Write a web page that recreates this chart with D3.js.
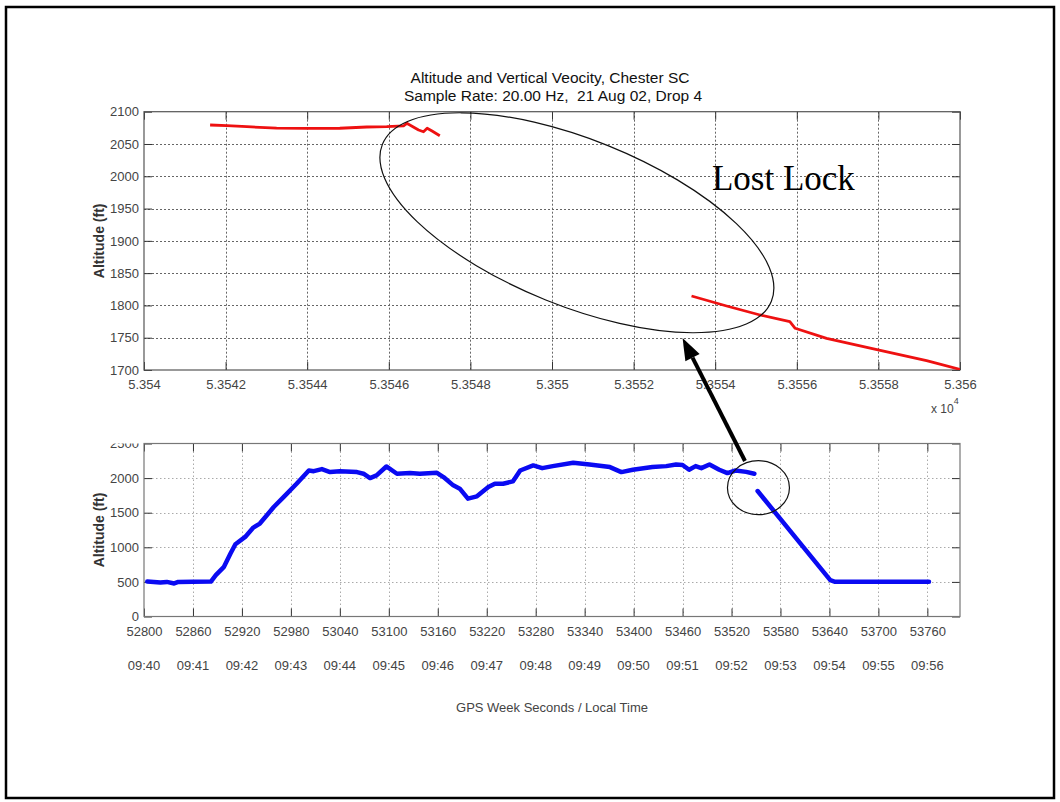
<!DOCTYPE html>
<html>
<head>
<meta charset="utf-8">
<script src="https://cdn.jsdelivr.net/npm/d3@7"></script>
<style>
  body { margin: 0; background: #fff; }
  svg { display: block; }
  text { font-family: "Liberation Sans", Arial, sans-serif; }
</style>
</head>
<body>
<svg id="chart" width="1060" height="802"></svg>
<script>
// ---------------- data ----------------
const titleLines = [
  "Altitude and Vertical Veocity, Chester SC",
  "Sample Rate: 20.00 Hz,  21 Aug 02, Drop 4"
];
const yAxisLabel = "Altitude (ft)";
const xAxisLabel = "GPS Week Seconds / Local Time";
const annotationText = "Lost Lock";

// Close-up panel (GPS week seconds 53540 - 53560): two pieces either side of the lock loss
const zoomSeg1Sec = [53541.62, 53542.03, 53542.52, 53543.25, 53543.99, 53544.80, 53545.46, 53545.95, 53546.36, 53546.44, 53546.73, 53546.85, 53546.94, 53547.06, 53547.25];
const zoomSeg1Alt = [2079.4, 2078.3, 2076.8, 2074.5, 2074.3, 2074.4, 2076.3, 2076.8, 2077.9, 2082.0, 2071.7, 2069.0, 2074.3, 2070.0, 2062.8];
const zoomSeg2Sec = [53553.42, 53554.28, 53555.10, 53555.83, 53555.96, 53556.73, 53557.99, 53559.18, 53560.00];
const zoomSeg2Alt = [1814.6, 1799.1, 1785.2, 1774.8, 1764.6, 1749.1, 1731.0, 1714.4, 1701.0];

// Full drop (GPS week seconds 52800 - 53800)
const fullSeg1Sec = [52804, 52812, 52820, 52828, 52837, 52842, 52860, 52882, 52888, 52898, 52906, 52912, 52924, 52934, 52942, 52959, 52971, 52987, 53002, 53008, 53018, 53028, 53040, 53061, 53069, 53077, 53085, 53097, 53110, 53126, 53138, 53159, 53167, 53179, 53187, 53197, 53208, 53222, 53230, 53240, 53252, 53261, 53277, 53288, 53301, 53326, 53346, 53371, 53385, 53399, 53423, 53440, 53452, 53460, 53468, 53476, 53483, 53493, 53505, 53515, 53525, 53538, 53548];
const fullSeg1Alt = [505, 500, 490, 500, 478, 500, 502, 505, 598, 718, 910, 1045, 1150, 1285, 1343, 1582, 1726, 1919, 2111, 2100, 2130, 2087, 2100, 2087, 2063, 2000, 2039, 2168, 2063, 2072, 2063, 2076, 2015, 1895, 1847, 1703, 1736, 1870, 1919, 1919, 1952, 2110, 2183, 2144, 2173, 2222, 2197, 2159, 2087, 2121, 2159, 2173, 2197, 2190, 2121, 2173, 2144, 2197, 2121, 2072, 2110, 2090, 2063];
const fullSeg2Sec = [53552, 53641, 53647, 53762];
const fullSeg2Alt = [1813, 526, 502, 502];

// Tick values and labels
const zoomXTicks = [53540, 53542, 53544, 53546, 53548, 53550, 53552, 53554, 53556, 53558, 53560];
const zoomXTickLabels = ["5.354", "5.3542", "5.3544", "5.3546", "5.3548", "5.355", "5.3552", "5.3554", "5.3556", "5.3558", "5.356"];
const zoomYTicks = [1700, 1750, 1800, 1850, 1900, 1950, 2000, 2050, 2100];
const fullXTicks = [52800, 52860, 52920, 52980, 53040, 53100, 53160, 53220, 53280, 53340, 53400, 53460, 53520, 53580, 53640, 53700, 53760];
const localTimeLabels = ["09:40", "09:41", "09:42", "09:43", "09:44", "09:45", "09:46", "09:47", "09:48", "09:49", "09:50", "09:51", "09:52", "09:53", "09:54", "09:55", "09:56"];
const fullYTicks = [0, 500, 1000, 1500, 2000, 2500];

// Annotations (data coordinates of their own panel)
const lockLossEllipse = { sec: 53550.61, alt: 1928, rx: 209.7, ry: 83.2, angle: 21.95 };
const gapCircle = { sec: 53553, alt: 1861, rx: 31, ry: 27 };
const arrowTail = { sec: 53536.5, alt: 2247 };   // bottom panel
const arrowHead = { sec: 53553.2, alt: 1749.6 }; // top panel
const labelAnchor = { sec: 53553.92, alt: 1978.8 };

// ---------------- layout ----------------
const svg = d3.select("#chart");
svg.append("rect").attr("width", 1060).attr("height", 802).attr("fill", "#fff");
svg.append("rect")
  .attr("x", 6).attr("y", 7).attr("width", 1048).attr("height", 791)
  .attr("fill", "none").attr("stroke", "#000").attr("stroke-width", 2.5);

const topBox = { left: 144, right: 960, top: 111.7, bottom: 370 };
const botBox = { left: 144, right: 960, top: 443.5, bottom: 616.5 };

const xTop = d3.scaleLinear().domain([53540, 53560]).range([topBox.left, topBox.right]);
const yTop = d3.scaleLinear().domain([1700, 2100]).range([topBox.bottom, topBox.top]);
const xBot = d3.scaleLinear().domain([52800, 53800]).range([botBox.left, botBox.right]);
const yBot = d3.scaleLinear().domain([0, 2500]).range([botBox.bottom, botBox.top]);

const tickColor = "#444";

function panel(box, x, y, xTicks, xLabels, yTicks, gridColor, gridDash, boxColor, id) {
  const g = svg.append("g");
  const w = box.right - box.left, h = box.bottom - box.top;

  // grid
  const grid = g.append("g").attr("stroke", gridColor).attr("stroke-width", 1)
    .attr("stroke-dasharray", gridDash);
  grid.selectAll("line.v").data(xTicks.filter(d => x(d) > box.left + 1 && x(d) < box.right - 1))
    .join("line").attr("class", "v")
    .attr("x1", d => Math.round(x(d)) + 0.5).attr("x2", d => Math.round(x(d)) + 0.5)
    .attr("y1", box.top).attr("y2", box.bottom);
  grid.selectAll("line.h").data(yTicks.filter(d => y(d) > box.top + 1 && y(d) < box.bottom - 1))
    .join("line").attr("class", "h")
    .attr("y1", d => Math.round(y(d)) + 0.5).attr("y2", d => Math.round(y(d)) + 0.5)
    .attr("x1", box.left).attr("x2", box.right);

  // axes with inward ticks on all four sides
  const style = sel => {
    sel.select(".domain").remove();
    sel.selectAll(".tick line").attr("stroke", "#333");
    sel.selectAll("text").attr("font-size", 13).attr("fill", tickColor)
      .style("font-family", "'Liberation Sans', Arial, sans-serif");
  };
  g.append("g").attr("transform", `translate(0,${box.bottom})`)
    .call(d3.axisBottom(x).tickValues(xTicks).tickFormat((d, i) => xLabels[i]).tickSize(-8).tickPadding(10))
    .call(style);
  g.append("g").attr("transform", `translate(0,${box.top})`)
    .call(d3.axisTop(x).tickValues(xTicks).tickFormat("").tickSize(-8)).call(style);
  const left = g.append("g").attr("transform", `translate(${box.left},0)`)
    .call(d3.axisLeft(y).tickValues(yTicks).tickFormat(d3.format("d")).tickSize(-8).tickPadding(5))
    .call(style);
  g.append("g").attr("transform", `translate(${box.right},0)`)
    .call(d3.axisRight(y).tickValues(yTicks).tickFormat("").tickSize(-8)).call(style);

  // frame
  g.append("rect").attr("x", box.left).attr("y", box.top).attr("width", w).attr("height", h)
    .attr("fill", "none").attr("stroke", boxColor).attr("stroke-width", 1.2);

  // clip for data
  svg.append("clipPath").attr("id", id).append("rect")
    .attr("x", box.left).attr("y", box.top).attr("width", w).attr("height", h);

  // axis title
  g.append("text")
    .attr("transform", `translate(104,${(box.top + box.bottom) / 2}) rotate(-90)`)
    .attr("text-anchor", "middle").attr("font-size", 14).attr("font-weight", "bold")
    .attr("fill", "#333").text(yAxisLabel);
  return { g, left };
}

// ---------------- top panel (close-up) ----------------
const topPanel = panel(topBox, xTop, yTop, zoomXTicks, zoomXTickLabels, zoomYTicks, "#666", "2,2", "#555", "clipTop");

const lineTop = d3.line().x(d => xTop(d[0])).y(d => yTop(d[1]));
[[zoomSeg1Sec, zoomSeg1Alt], [zoomSeg2Sec, zoomSeg2Alt]].forEach(([s, a]) => {
  svg.append("path").datum(s.map((v, i) => [v, a[i]]))
    .attr("clip-path", "url(#clipTop)")
    .attr("d", lineTop).attr("fill", "none").attr("stroke", "#ee1111")
    .attr("stroke-width", 2.8).attr("stroke-linejoin", "round");
});

// exponent label
const expo = svg.append("text").attr("x", 931).attr("y", 413).attr("font-size", 12).attr("fill", tickColor);
expo.append("tspan").text("x 10");
expo.append("tspan").attr("dy", -9).attr("font-size", 9).text("4");

// ---------------- bottom panel (full drop) ----------------
const botPanel = panel(botBox, xBot, yBot, fullXTicks, fullXTicks.map(String), fullYTicks, "#aaa", "1.5,2.5", "#777", "clipBot");

// top y tick label sits under the panel edge, only its lower part shows
// (clip rectangle is in the tick's own coordinates, tick centre at y = 0)
svg.append("clipPath").attr("id", "clipTick").append("rect")
  .attr("x", -200).attr("y", -0.5).attr("width", 400).attr("height", 40);
botPanel.left.selectAll(".tick").filter(d => d === 2500).select("text").attr("clip-path", "url(#clipTick)");

const lineBot = d3.line().x(d => xBot(d[0])).y(d => yBot(d[1]));
[[fullSeg1Sec, fullSeg1Alt], [fullSeg2Sec, fullSeg2Alt]].forEach(([s, a]) => {
  svg.append("path").datum(s.map((v, i) => [v, a[i]]))
    .attr("clip-path", "url(#clipBot)")
    .attr("d", lineBot).attr("fill", "none").attr("stroke", "#0a0af2")
    .attr("stroke-width", 4.5).attr("stroke-linejoin", "round").attr("stroke-linecap", "round");
});

// local time row
svg.append("g").selectAll("text").data(fullXTicks).join("text")
  .attr("x", d => xBot(d)).attr("y", 670).attr("text-anchor", "middle")
  .attr("font-size", 13).attr("fill", tickColor)
  .text((d, i) => localTimeLabels[i]);

svg.append("text").attr("x", 552).attr("y", 712).attr("text-anchor", "middle")
  .attr("font-size", 13).attr("fill", tickColor).text(xAxisLabel);

// ---------------- title ----------------
svg.append("text").attr("x", 550).attr("y", 83).attr("text-anchor", "middle")
  .attr("font-size", 15.5).attr("fill", "#111").style("white-space", "pre").text(titleLines[0]);
svg.append("text").attr("x", 553).attr("y", 101).attr("text-anchor", "middle")
  .attr("font-size", 15.5).attr("fill", "#111").style("white-space", "pre").text(titleLines[1]);

// ---------------- annotations ----------------
svg.append("ellipse")
  .attr("transform", `translate(${xTop(lockLossEllipse.sec)},${yTop(lockLossEllipse.alt)}) rotate(${lockLossEllipse.angle})`)
  .attr("rx", lockLossEllipse.rx).attr("ry", lockLossEllipse.ry)
  .attr("fill", "none").attr("stroke", "#111").attr("stroke-width", 1.2);

svg.append("text")
  .attr("x", xTop(labelAnchor.sec)).attr("y", yTop(labelAnchor.alt))
  .style("font-family", "'Liberation Serif', 'Times New Roman', serif")
  .attr("font-size", 35).attr("fill", "#000").text(annotationText);

svg.append("ellipse")
  .attr("cx", xBot(gapCircle.sec)).attr("cy", yBot(gapCircle.alt))
  .attr("rx", gapCircle.rx).attr("ry", gapCircle.ry)
  .attr("fill", "none").attr("stroke", "#111").attr("stroke-width", 1.2);

// arrow from the gap in the full record up to the close-up
const tx = xBot(arrowTail.sec), ty = yBot(arrowTail.alt);
const hx = xTop(arrowHead.sec), hy = yTop(arrowHead.alt);
const ang = Math.atan2(hy - ty, hx - tx);
const headLen = 22, headHalf = 8;
const bx = hx - headLen * Math.cos(ang), by = hy - headLen * Math.sin(ang);
svg.append("line").attr("x1", tx).attr("y1", ty).attr("x2", bx).attr("y2", by)
  .attr("stroke", "#000").attr("stroke-width", 4);
svg.append("polygon")
  .attr("points", [
    [hx, hy],
    [bx + headHalf * Math.sin(ang), by - headHalf * Math.cos(ang)],
    [bx - headHalf * Math.sin(ang), by + headHalf * Math.cos(ang)]
  ].map(p => p.join(",")).join(" "))
  .attr("fill", "#000");
</script>
</body>
</html>
